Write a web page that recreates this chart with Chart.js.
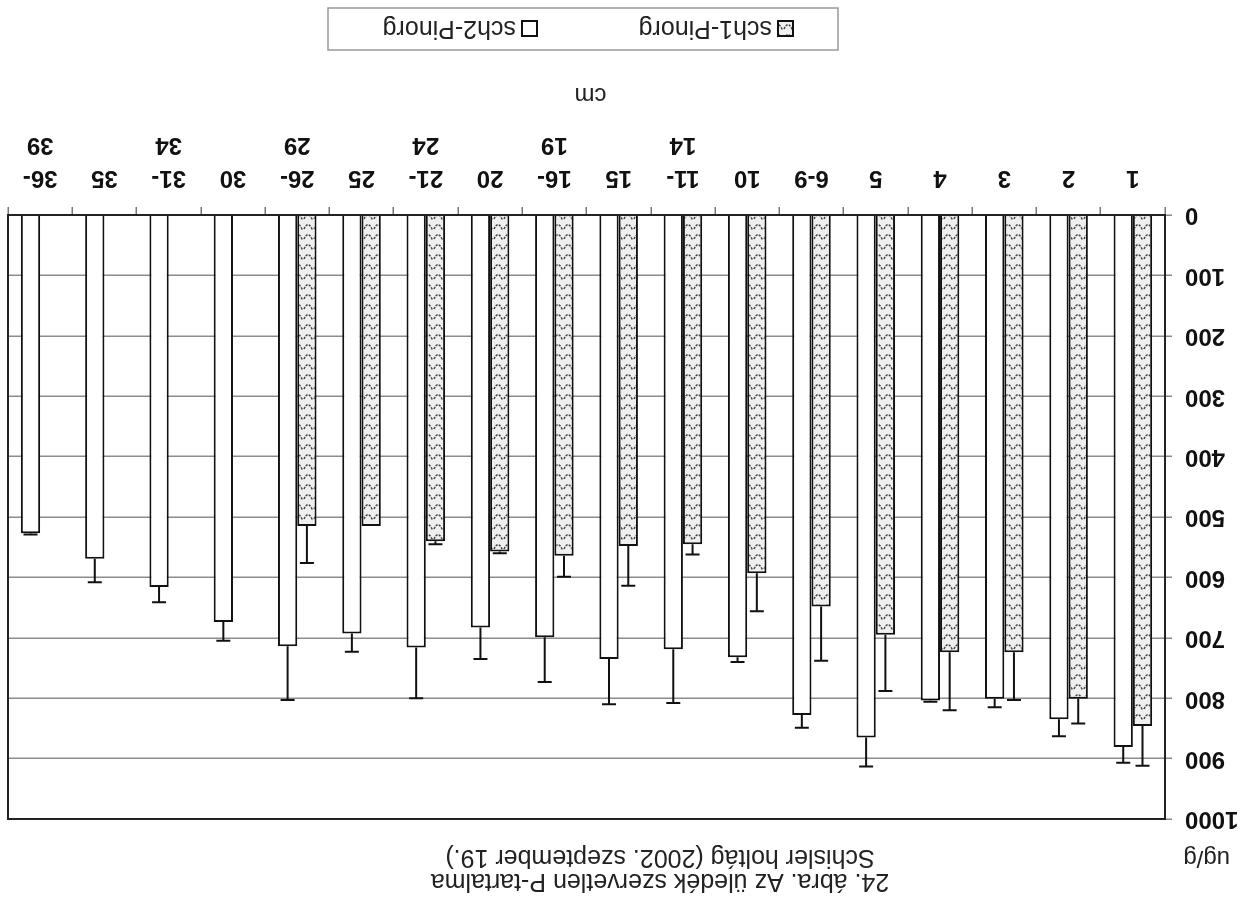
<!DOCTYPE html>
<html>
<head>
<meta charset="utf-8">
<script src="https://cdn.jsdelivr.net/npm/chart.js@4"></script>
<style>
html,body{margin:0;padding:0;background:#fff;overflow:hidden}
#wrap{width:1253px;height:921px;transform:rotate(180deg);transform-origin:50% 50%}
canvas{display:block}
</style>
</head>
<body>
<div id="wrap"><canvas id="c" width="1253" height="921"></canvas></div>
<script>
// ---- data ----
const categories = ["1","2","3","4","5","6-9","10",["11-","14"],"15",["16-","19"],"20",["21-","24"],"25",["26-","29"],"30",["31-","34"],"35",["36-","39"]];
const sch1Values = [846,801,724,724,695,648,593,545,548,564,557,540,515,515,null,null,null,null];
const sch1Errors = [66,41,79,96,93,90,63,17,66,35,3,5,0,61,null,null,null,null];
const sch2Values = [881,835,801,804,865,828,732,719,735,699,683,716,693,714,674,616,569,527];
const sch2Errors = [26,28,14,2,48,21,8,89,75,74,52,84,30,89,31,25,39,2];
const yTickValues = [0,100,200,300,400,500,600,700,800,900,1000];
const seriesNames = ["sch1-Pinorg","sch2-Pinorg"];
const titleLine1 = "24. ábra. Az üledék szervetlen P-tartalma";
const titleLine2 = "Schisler holtág (2002. szeptember 19.)";
const yUnit = "ug/g";
const xTitle = "cm";

// hatch pattern for sch1
function makePattern(){
  const pc = document.createElement('canvas');
  pc.width = 10; pc.height = 10;
  const p = pc.getContext('2d');
  p.fillStyle = '#efefef'; p.fillRect(0,0,10,10);
  p.strokeStyle = '#444'; p.lineWidth = 1.5; p.setLineDash([2.2,1.3]);
  p.beginPath(); p.moveTo(0.8,1.5); p.quadraticCurveTo(5,11,9.2,1.5); p.stroke();
  return document.getElementById('c').getContext('2d').createPattern(pc,'repeat');
}
const hatch = makePattern();

const FONT = "'Liberation Sans', Arial, sans-serif";

const errorBars = {
  id:'errorBars',
  afterDatasetsDraw(chart){
    const ctx = chart.ctx, y = chart.scales.y;
    const errs = [sch1Errors, sch2Errors];
    ctx.save();
    ctx.strokeStyle = '#111'; ctx.lineWidth = 2;
    chart.data.datasets.forEach((ds, i) => {
      const meta = chart.getDatasetMeta(i);
      meta.data.forEach((bar, j) => {
        const v = ds.data[j], e = errs[i][j];
        if (v == null || e == null || e <= 0) return;
        const yTop = y.getPixelForValue(v + e);
        ctx.beginPath();
        ctx.moveTo(bar.x, bar.y); ctx.lineTo(bar.x, yTop);
        ctx.moveTo(bar.x - 7, yTop); ctx.lineTo(bar.x + 7, yTop);
        ctx.stroke();
      });
    });
    ctx.restore();
  }
};

const decorations = {
  id:'decorations',
  afterDraw(chart){
    const ctx = chart.ctx, a = chart.chartArea;
    ctx.save();
    // plot frame
    ctx.strokeStyle = '#222'; ctx.lineWidth = 2;
    ctx.strokeRect(a.left, a.top, a.right - a.left, a.bottom - a.top);
    // titles
    ctx.fillStyle = '#222';
    ctx.textBaseline = 'middle';
    ctx.font = "25px " + FONT;
    ctx.textAlign = 'center';
    ctx.fillText(titleLine1, 593, 40);
    ctx.fillText(titleLine2, 593, 64);
    ctx.textAlign = 'left';
    ctx.font = "24px " + FONT;
    ctx.fillText(yUnit, 23, 63);
    ctx.textAlign = 'center';
    ctx.fillText(xTitle, (a.left + a.right) / 2 - 4, 826);
    // legend
    ctx.strokeStyle = '#999'; ctx.lineWidth = 1.5;
    ctx.strokeRect(415, 871, 510, 42);
    const items = [{x:460, fill:hatch, name:seriesNames[0]}, {x:716, fill:'#fff', name:seriesNames[1]}];
    items.forEach(it => {
      ctx.fillStyle = it.fill;
      ctx.fillRect(it.x, 885, 15, 15);
      ctx.strokeStyle = '#111'; ctx.lineWidth = 2;
      ctx.strokeRect(it.x, 885, 15, 15);
      ctx.fillStyle = '#222';
      ctx.font = "25px " + FONT;
      ctx.textAlign = 'left';
      ctx.fillText(it.name, it.x + 21, 893);
    });
    ctx.restore();
  }
};

new Chart(document.getElementById('c'), {
  type:'bar',
  data:{
    labels: categories,
    datasets:[
      {label:seriesNames[0], data:sch1Values, backgroundColor:hatch, borderColor:'#111', borderWidth:2},
      {label:seriesNames[1], data:sch2Values, backgroundColor:'#fff', borderColor:'#111', borderWidth:2}
    ]
  },
  options:{
    responsive:false, animation:false, devicePixelRatio:1,
    categoryPercentage:0.6, barPercentage:1.0,
    layout:{padding:{top:102, right:8, left:0, bottom:0}},
    plugins:{legend:{display:false}, title:{display:false}, tooltip:{enabled:false}},
    scales:{
      x:{
        afterFit(s){ s.height = 215; },
        grid:{drawOnChartArea:false, tickLength:8, color:'#777', lineWidth:1.5},
        border:{display:true, color:'#222', width:2},
        ticks:{color:'#111', padding:13, maxRotation:0, autoSkip:false,
               font:{family:FONT, size:24, weight:'bold', lineHeight:1.375}}
      },
      y:{
        min:0, max:1000,
        afterFit(s){ s.width = 88; },
        afterBuildTicks(s){ s.ticks = yTickValues.map(v => ({value:v})); },
        grid:{color:'#8c8c8c', lineWidth:1.5, tickLength:7, tickColor:'#888'},
        border:{display:true, color:'#222', width:2},
        ticks:{color:'#111', padding:13, callback:(v) => String(v),
               font:{family:FONT, size:24, weight:'bold'}}
      }
    }
  },
  plugins:[errorBars, decorations]
});
</script>
</body>
</html>
